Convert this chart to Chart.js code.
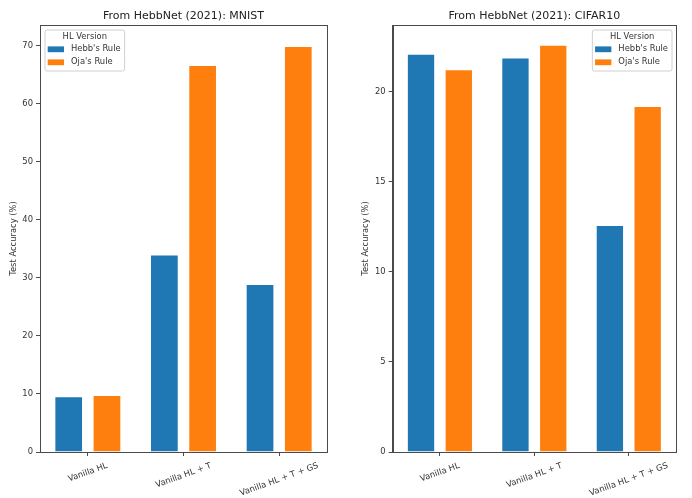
<!DOCTYPE html>
<html lang="en">
<head>
    <meta charset="UTF-8">
    <title>HebbNet (2021) test accuracy</title>
    <script src="https://cdn.jsdelivr.net/npm/chart.js"></script>
    <style>
        body { margin: 0; background: #fff; }
        .wrap { display: flex; width: 692px; height: 498px; }
        canvas { display: block; }
    </style>
</head>
<body>
    <div class="wrap">
        <canvas id="mnistChart" width="346" height="498"></canvas>
        <canvas id="cifarChart" width="346" height="498"></canvas>
    </div>

    <script>
    // Data
    const categories = ["Vanilla HL", "Vanilla HL + T", "Vanilla HL + T + GS"];
    const seriesNames = ["Hebb's Rule", "Oja's Rule"];

    const mnistHebb = [9.6, 34.0, 28.9];
    const mnistOja = [9.8, 66.6, 69.9];
    const mnistTicks = [0, 10, 20, 30, 40, 50, 60, 70];
    const mnistMax = 73.5;

    const cifarHebb = [22.1, 21.9, 12.6];
    const cifarOja = [21.25, 22.6, 19.2];
    const cifarTicks = [0, 5, 10, 15, 20];
    const cifarMax = 23.7;

    const FONT = '"DejaVu Sans", "Liberation Sans", sans-serif';
    const SMALL = 8.4;

    // matplotlib-ish extras: frame, axes title, centred rotated x labels, legend inside axes
    const mplDecor = {
        id: "mplDecor",
        afterDraw(chart, args, opts) {
            const ctx = chart.ctx;
            const a = chart.chartArea;
            ctx.save();

            // full frame
            ctx.strokeStyle = "#4a4a4a";
            ctx.lineWidth = 1;
            ctx.strokeRect(Math.round(a.left) + 0.5, Math.round(a.top) + 0.5,
                Math.round(a.right - a.left), Math.round(a.bottom - a.top));

            // title
            ctx.fillStyle = "#222";
            ctx.font = "11px " + FONT;
            ctx.textAlign = "center";
            ctx.textBaseline = "middle";
            ctx.fillText(opts.title, (a.left + a.right) / 2, 16);

            // x labels, rotated 20deg and centred under the tick
            const xs = chart.scales.x;
            const th = Math.PI / 9;
            ctx.font = SMALL + "px " + FONT;
            ctx.fillStyle = "#333";
            chart.data.labels.forEach((lab, i) => {
                const x = xs.getPixelForTick(i);
                const w = ctx.measureText(lab).width;
                const bh = w * Math.sin(th) + SMALL * Math.cos(th);
                ctx.save();
                ctx.translate(x, a.bottom + 9.5 + bh / 2);
                ctx.rotate(-th);
                ctx.fillText(lab, 0, 0);
                ctx.restore();
            });

            // legend
            const ds = chart.data.datasets;
            let maxW = 0;
            ds.forEach(d => { maxW = Math.max(maxW, ctx.measureText(d.label).width); });
            const bw = 26 + maxW + 4;
            const bh = 41;
            const bx = opts.legendSide === "left" ? a.left + 5 : a.right - 4 - bw;
            const by = a.top + 5;
            ctx.beginPath();
            ctx.roundRect(bx, by, bw, bh, 2);
            ctx.fillStyle = "rgba(255,255,255,0.8)";
            ctx.fill();
            ctx.strokeStyle = "#d0d0d0";
            ctx.stroke();

            ctx.fillStyle = "#333";
            ctx.textAlign = "center";
            ctx.fillText("HL Version", bx + bw / 2, by + 6.7);
            ctx.textAlign = "left";
            ds.forEach((d, k) => {
                const y = by + 19.3 + k * 13;
                ctx.fillStyle = d.backgroundColor;
                ctx.fillRect(bx + 2.7, y - 2.9, 16.3, 5.8);
                ctx.fillStyle = "#333";
                ctx.fillText(d.label, bx + 26, y);
            });

            ctx.restore();
        }
    };

    function makeChart(id, title, hebb, oja, yTicks, yMax, legendSide, padLeft, yWidth, padRight) {
        return new Chart(document.getElementById(id), {
            type: "bar",
            data: {
                labels: categories,
                datasets: [
                    {
                        label: seriesNames[0],
                        data: hebb,
                        backgroundColor: "#1f77b4",
                        borderColor: "rgba(255,255,255,0.45)",
                        borderWidth: 1,
                        categoryPercentage: 0.8,
                        barPercentage: 0.75
                    },
                    {
                        label: seriesNames[1],
                        data: oja,
                        backgroundColor: "#ff7f0e",
                        borderColor: "rgba(255,255,255,0.45)",
                        borderWidth: 1,
                        categoryPercentage: 0.8,
                        barPercentage: 0.75
                    }
                ]
            },
            options: {
                responsive: false,
                animation: false,
                layout: { padding: { left: padLeft, right: padRight, top: 25, bottom: 0 } },
                plugins: {
                    legend: { display: false },
                    tooltip: { enabled: false },
                    mplDecor: { title: title, legendSide: legendSide }
                },
                scales: {
                    x: {
                        grid: { display: true, offset: false, drawOnChartArea: false, drawTicks: true, tickLength: 4, color: "#4a4a4a" },
                        border: { display: true, color: "#4a4a4a" },
                        ticks: { display: false },
                        afterFit: s => { s.height = 46; }
                    },
                    y: {
                        min: 0,
                        max: yMax,
                        afterBuildTicks: s => { s.ticks = yTicks.map(v => ({ value: v })); },
                        grid: { drawOnChartArea: false, drawTicks: true, tickLength: 4, color: "#4a4a4a" },
                        border: { display: true, color: "#4a4a4a" },
                        ticks: { font: { family: FONT, size: SMALL }, color: "#333", padding: 3 },
                        title: {
                            display: true,
                            text: "Test Accuracy (%)",
                            font: { family: FONT, size: SMALL },
                            color: "#333",
                            padding: { top: 4, bottom: 0 }
                        },
                        afterFit: s => { s.width = yWidth; }
                    }
                }
            },
            plugins: [mplDecor]
        });
    }

    makeChart("mnistChart", "From HebbNet (2021): MNIST", mnistHebb, mnistOja, mnistTicks, mnistMax, "left", 5, 35, 19);
    makeChart("cifarChart", "From HebbNet (2021): CIFAR10", cifarHebb, cifarOja, cifarTicks, cifarMax, "right", 11, 35.7, 16);
    </script>
</body>
</html>
